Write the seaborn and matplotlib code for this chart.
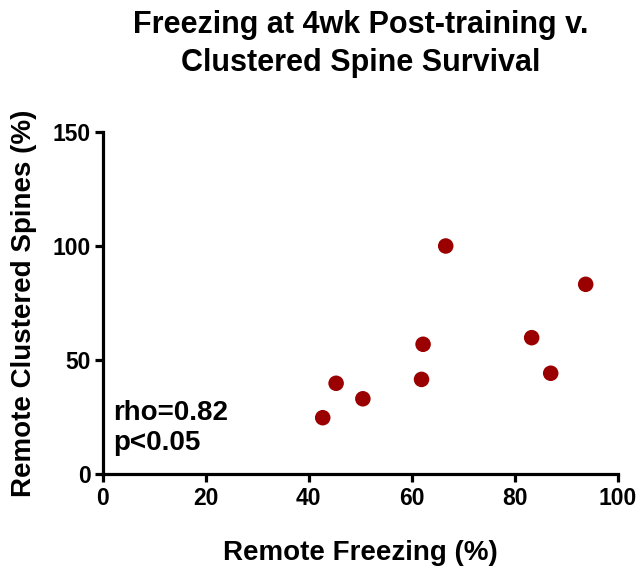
import matplotlib
matplotlib.use("Agg")
import matplotlib.pyplot as plt
import seaborn as sns
import pandas as pd

# Remote freezing (%) vs surviving clustered spines (%) per animal
freezing = [42.7, 45.3, 50.5, 61.9, 62.2, 66.6, 83.3, 87.0, 93.8]
clustered_spines = [24.7, 39.8, 33.0, 41.5, 56.9, 100.0, 59.8, 44.2, 83.2]
x_ticks = [0, 20, 40, 60, 80, 100]
y_ticks = [0, 50, 100, 150]

df = pd.DataFrame({"freezing": freezing, "spines": clustered_spines})

sns.set_theme(style="ticks")
plt.rcParams["font.family"] = ["Liberation Sans", "DejaVu Sans"]
plt.rcParams["font.weight"] = "bold"
plt.rcParams["text.color"] = "black"
plt.rcParams["axes.labelcolor"] = "black"
plt.rcParams["xtick.color"] = "black"
plt.rcParams["ytick.color"] = "black"

fig = plt.figure(figsize=(6.42, 5.66), dpi=100)
ax = fig.add_axes([0.1604, 0.1625, 0.8016, 0.6043])

sns.scatterplot(data=df, x="freezing", y="spines", ax=ax, color="#9b0000",
                s=125, edgecolor="none", clip_on=False, zorder=3)

ax.set_xlim(0, 100)
ax.set_ylim(0, 150)
ax.set_xticks(x_ticks)
ax.set_yticks(y_ticks)
ax.tick_params(axis="both", length=6, width=2.3, labelsize=16.5, pad=3,
               color="black", labelcolor="black")
for lab in ax.get_xticklabels() + ax.get_yticklabels():
    lab.set_fontweight("bold")

for side in ("top", "right"):
    ax.spines[side].set_visible(False)
for side in ("left", "bottom"):
    ax.spines[side].set_linewidth(2.3)
    ax.spines[side].set_color("black")

ax.set_xlabel("Remote Freezing (%)", fontsize=20, fontweight="bold", labelpad=22)
ax.set_ylabel("Remote Clustered Spines (%)", fontsize=20, fontweight="bold", labelpad=11)
ax.set_title("Freezing at 4wk Post-training v.\nClustered Spine Survival",
             fontsize=22, fontweight="bold", pad=44, linespacing=1.34)

ax.text(2, 20, "rho=0.82\np<0.05", fontsize=20, fontweight="bold",
        va="center", ha="left", linespacing=1.2)

fig.savefig("out.png", dpi=100)
